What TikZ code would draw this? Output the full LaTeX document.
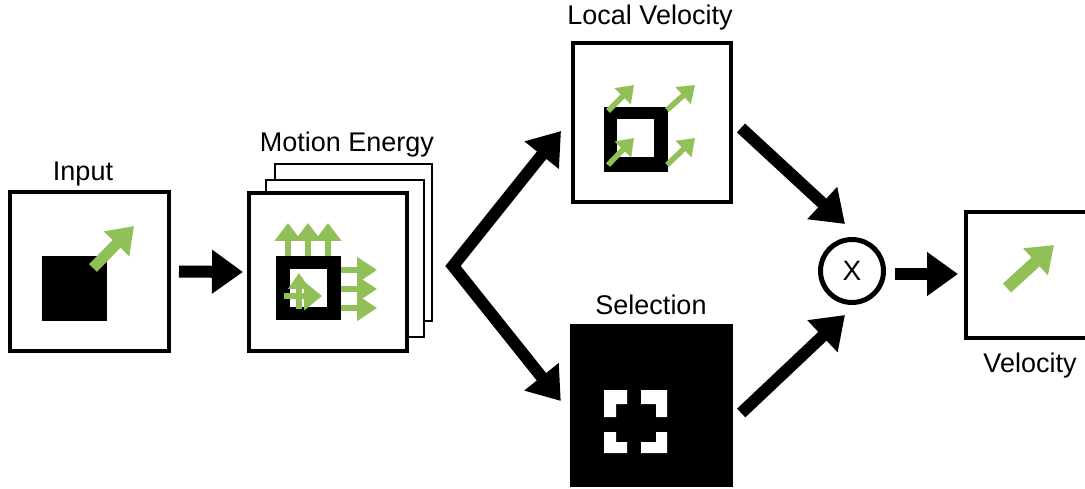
\documentclass[tikz,border=0pt]{standalone}
\usepackage{fontspec}
\setmainfont{Liberation Sans}
\usetikzlibrary{arrows.meta,calc}
\definecolor{grn}{RGB}{146,192,88}
\begin{document}
\begin{tikzpicture}[x=1pt,y=-1pt,
  box/.style={draw,line width=4pt,minimum width=159pt,minimum height=159pt,inner sep=0pt},
  thinbox/.style={draw,line width=2pt,fill=white,inner sep=0pt},
  lbl/.style={font=\fontsize{27}{32}\selectfont,anchor=base,inner sep=0pt},
  bigtip/.style={Triangle[length=31pt,width=42pt]},
  bigarrow/.style={line width=12pt,-{Triangle[length=31pt,width=42pt]}},
  garrow/.style n args={3}{draw=grn,line width=#1,-{Triangle[length=#2,width=#3]}}]
\clip (0,0) rectangle (1085,489);
% boxes
\node[box] (in) at (89.5,271.5) {};
\node[thinbox,minimum width=157pt,minimum height=157pt] (me3) at (353.5,242.5) {};
\node[thinbox,minimum width=158pt,minimum height=157pt] (me2) at (345,258.5) {};
\node[box,fill=white,minimum width=158pt,minimum height=158pt] (me) at (328,272) {};
\node[box,minimum width=158pt] (lv) at (652,122.5) {};
\node[fill=black,minimum size=163pt,inner sep=0pt] (sel) at (651.5,405.5) {};
\node[circle,draw,line width=5pt,minimum size=63pt,inner sep=0pt,font=\fontsize{28}{32}\selectfont] (x) at (852,271) {X};
\node[box,minimum width=130pt,minimum height=126pt] (vel) at (1031,275) {};
% labels
\node[lbl] (tin) at (83,181) {Input};
\node[lbl] (tme) at (347,152) {Motion Energy};
\node[lbl] (tlv) at (650,25) {Local Velocity};
\node[lbl] (tsel) at (651,315) {Selection};
\node[lbl] (tvel) at (1030,372) {Velocity};
% input content
\fill (42,256) rectangle (107,321);
\draw[garrow={11pt}{25pt}{34pt}] (93,268) -- (134,226);
% motion energy content
\fill (276,256) rectangle (341,320);
\fill[white] (290,269) rectangle (327,307);
\foreach \xx in {288,308,328}
  \draw[garrow={6pt}{18pt}{26pt}] (\xx,256) -- (\xx,223);
\foreach \yy in {270,289,308}
  \draw[garrow={6pt}{20pt}{25pt}] (341,\yy) -- (377,\yy);
\draw[garrow={6pt}{16pt}{21pt}] (299,309) -- (299,273);
\draw[garrow={6pt}{18pt}{28pt}] (284,296) -- (322,296);
% local velocity content
\fill (604,107) rectangle (668,172);
\fill[white] (617,119) rectangle (654,157);
\draw[garrow={5.5pt}{16pt}{22pt}] (608,111) -- (634,85);
\draw[garrow={5.5pt}{16pt}{22pt}] (667,110) -- (695,85);
\draw[garrow={5.5pt}{16pt}{22pt}] (608,165) -- (634,138);
\draw[garrow={5.5pt}{16pt}{22pt}] (667,165) -- (695,138);
% selection content
\fill[white] (604,390) -- (627,390) -- (627,404) -- (616,404) -- (616,417) -- (604,417) -- cycle;
\fill[white] (641,390) -- (667,390) -- (667,417) -- (656,417) -- (656,404) -- (641,404) -- cycle;
\fill[white] (604,432) -- (616,432) -- (616,442) -- (627,442) -- (627,453) -- (604,453) -- cycle;
\fill[white] (656,432) -- (667,432) -- (667,453) -- (641,453) -- (641,442) -- (656,442) -- cycle;
% velocity content
\draw[garrow={12pt}{25pt}{35pt}] (1007,288) -- (1054,245);
% connectors
\draw[bigarrow] ([xshift=8pt]in.east) -- ([xshift=-4pt]me.west);
\coordinate (split) at ($(me.east)+(44,-6)$);
\draw[line width=12pt,line join=miter,{Triangle[length=31pt,width=42pt]}-{Triangle[length=31pt,width=42pt]}]
  ($(lv.west)+(-10,8.5)$) -- (split) -- ($(sel.west)+(-9,-4.5)$);
\draw[bigarrow] ($(lv.east)+(8,5.5)$) -- ($(x.center)+(-7,-47)$);
\draw[bigarrow] ($(sel.east)+(8,7.5)$) -- ($(x.center)+(-7,44)$);
\draw[bigarrow] ($(x.east)+(9,3)$) -- ($(vel.west)+(-6,-1)$);
\end{tikzpicture}
\end{document}
